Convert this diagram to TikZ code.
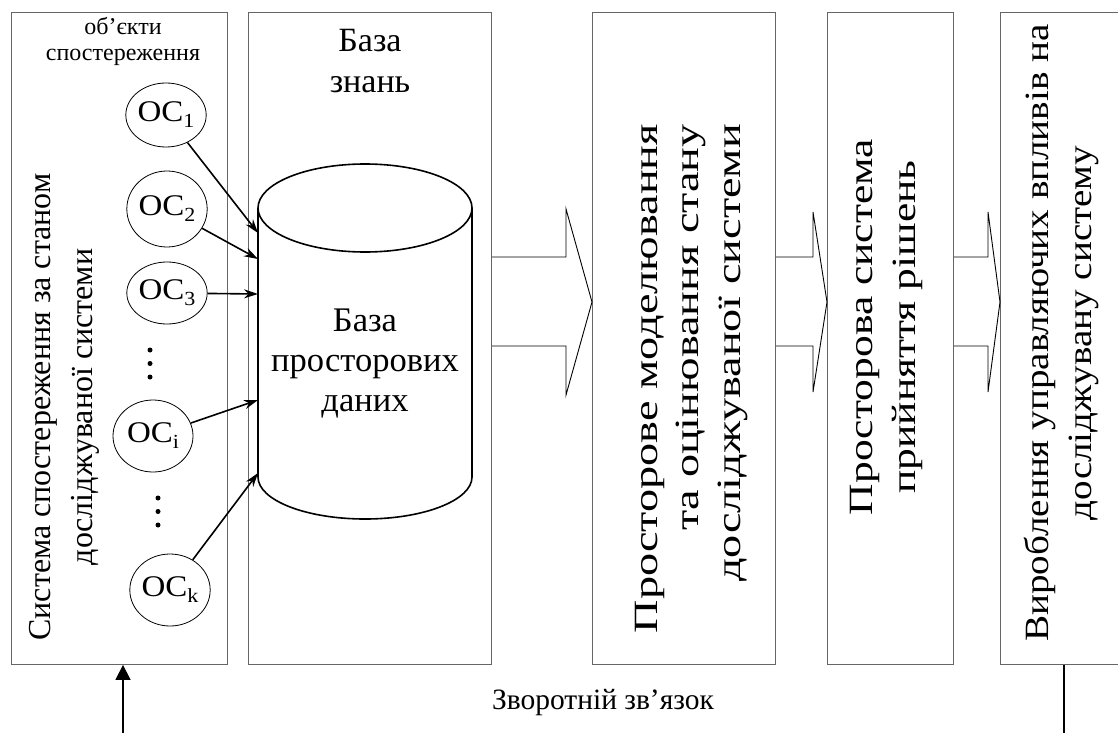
\documentclass[tikz,border=0pt]{standalone}
\usepackage{fontspec}
\setmainfont{Liberation Serif}
\newfontfamily\wideA{Liberation Serif}[FakeStretch=1.36]
\newfontfamily\wideB{Liberation Serif}[FakeStretch=1.28]
\newfontfamily\wideC{Liberation Serif}[FakeStretch=1.15]
\newfontfamily\wideO{Liberation Serif}[FakeStretch=1.1]
\newcommand{\ocsub}[1]{\raisebox{-6pt}{\fontsize{20}{20}\selectfont #1}}
\usetikzlibrary{shapes.geometric,arrows.meta}
\begin{document}
\begin{tikzpicture}[x=1pt,y=-1pt,
  box/.style={draw=black!60, line width=0.9pt, inner sep=0pt, anchor=north west},
  oc/.style={draw, ellipse, line width=0.8pt, minimum width=80pt, minimum height=72pt, inner sep=0pt, font=\wideO\fontsize{30}{33}\selectfont},
  link/.style={-{Stealth[length=14pt,width=9pt]}, line width=1.6pt},
  feed/.style={-{Triangle[length=15pt,width=15pt]}, line width=1.6pt},
  big/.style={font=\fontsize{34}{41.5}\selectfont, align=center, inner sep=0pt},
  barrow/.style={draw, line width=0.9pt},
  cyl/.style={draw, line width=1.6pt},
  dot/.style={fill, circle, inner sep=0pt, minimum size=5pt},
]
\useasboundingbox (0,0) rectangle (1118,733);

% boxes
\node[box, minimum width=216pt, minimum height=652pt] (b1) at (11,12) {};
\node[box, minimum width=243pt, minimum height=652pt] (b2) at (248,12) {};
\node[box, minimum width=183pt, minimum height=652pt] (b3) at (592,12) {};
\node[box, minimum width=126pt, minimum height=652pt] (b4) at (827,12) {};
\node[box, minimum width=140pt, minimum height=652pt] (b5) at (1000,12) {};

% box texts
\node[big, rotate=90, font=\fontsize{32}{42}\selectfont] (t1) at (64,407) {Система спостереження за станом\\досліджуваної системи};
\node[font=\fontsize{24}{26}\selectfont, align=center, inner sep=0pt] (obj) at (123,41) {об’єкти\\спостереження};
\node[big] (kb) at (370,61) {База\\знань};
\node[big, rotate=90, align=right, anchor=east, font=\wideA\fontsize{34}{41.5}\selectfont] (t3) at (691.5,124) {Просторове моделювання\\та оцінювання стану\\досліджуваної системи};
\node[big, rotate=90, font=\wideB\fontsize{34}{43}\selectfont] (t4) at (886.5,327) {Просторова система\\прийняття рішень};
\node[big, rotate=90, font=\wideC\fontsize{34}{43}\selectfont] (t5) at (1061.5,333) {Вироблення управляючих впливів на\\досліджувану систему};

% cylinder
\draw[cyl] (365,208) ellipse [x radius=107pt, y radius=44pt];
\draw[cyl] (258,208) -- (258,477) arc [start angle=180, end angle=360, x radius=107pt, y radius=42pt] -- (472,208);
\node[big, font=\fontsize{34.5}{40}\selectfont] (db) at (365,364) {База\\просторових\\даних};
\coordinate (c1) at (258,233);
\coordinate (c2) at (258,259);
\coordinate (c3) at (258,294);
\coordinate (ci) at (258,400);
\coordinate (ck) at (258,473);

% observation objects
\node[oc, minimum height=64pt] (oc1) at (166,115) {OC\ocsub{1}};
\node[oc, minimum height=76pt] (oc2) at (167,209) {OC\ocsub{2}};
\node[oc, minimum height=62pt] (oc3) at (167,293) {OC\ocsub{3}};
\node[oc] (oci) at (153,436) {OC\ocsub{i}};
\node[oc] (ock) at (170,590) {OC\ocsub{k}};
\node[dot] (d1) at (150,350) {};
\node[dot] (d2) at (150,363.5) {};
\node[dot] (d3) at (150,377) {};
\node[dot] (d4) at (158,498) {};
\node[dot] (d5) at (158,511.5) {};
\node[dot] (d6) at (158,525) {};

\draw[link] (oc1) -- (c1);
\draw[link] (oc2) -- (c2);
\draw[link] (oc3) -- (c3);
\draw[link] (oci) -- (ci);
\draw[link] (ock) -- (ck);

% block arrows
\draw[barrow] (b2.east |- 0,257) -- (566,257) -- (566,209) -- (b3.west |- 0,302) -- (566,395) -- (566,346) -- (b2.east |- 0,346);
\draw[barrow] (b3.east |- 0,257) -- (813,257) -- (813,212) -- (b4.west |- 0,302) -- (813,392) -- (813,346) -- (b3.east |- 0,346);
\draw[barrow] (b4.east |- 0,257) -- (988,257) -- (988,212) -- (b5.west |- 0,302) -- (988,392) -- (988,346) -- (b4.east |- 0,346);

% feedback
\coordinate (fl) at (123,733);
\coordinate (fr) at (1064,733);
\draw[feed] (fl) -- (fl |- b1.south);
\draw[line width=1.6pt] (fr |- b5.south) -- (fr);
\node[font=\fontsize{29.5}{33}\selectfont, inner sep=0pt] (fb) at (603,703) {Зворотній зв’язок};
\end{tikzpicture}
\end{document}
